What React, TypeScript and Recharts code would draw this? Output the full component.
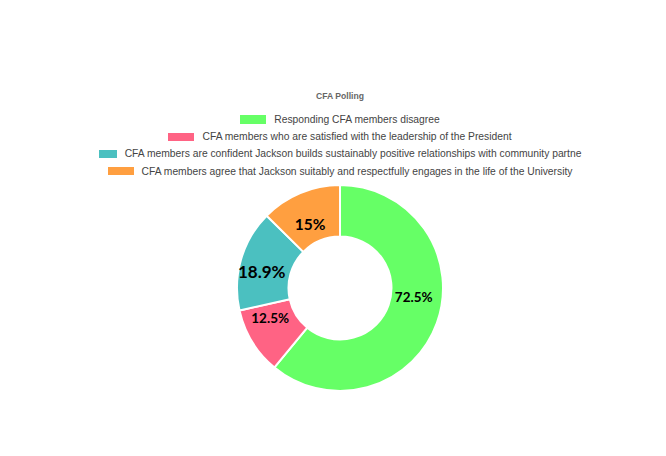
import { Cell, Pie, PieChart } from "recharts";

const categories = [
  "Responding CFA members disagree",
  "CFA members who are satisfied with the leadership of the President",
  "CFA members are confident Jackson builds sustainably positive relationships with community partne",
  "CFA members agree that Jackson suitably and respectfully engages in the life of the University",
];
const values = [72.5, 12.5, 18.9, 15];
const labels = ["72.5%", "12.5%", "18.9%", "15%"];

const colors = ["#66ff66", "#ff6384", "#4bc0c0", "#ff9f40"];
const labelSizes = [13.5, 13.5, 17, 15.5];
// small nudges so the labels sit where the original plugin put them
const labelNudge = [
  [1, -17],
  [-4, -10],
  [-4, 5],
  [0, 7],
];
const boxWidths = [26, 26, 18, 26];

const data = categories.map((name, i) => ({ name, value: values[i], label: labels[i] }));

const RADIAN = Math.PI / 180;

function renderLabel(props: any) {
  const { cx, cy, midAngle, innerRadius, outerRadius, index } = props;
  const r = (innerRadius + outerRadius) / 2;
  const x = cx + r * Math.cos(-midAngle * RADIAN) + labelNudge[index][0];
  const y = cy + r * Math.sin(-midAngle * RADIAN) + labelNudge[index][1];
  return (
    <text
      x={x}
      y={y}
      textAnchor="middle"
      dominantBaseline="central"
      fill="#000"
      fontFamily="Lato, 'Noto Sans', sans-serif"
      fontWeight={700}
      fontSize={labelSizes[index]}
    >
      {labels[index]}
    </text>
  );
}

function LegendBlock() {
  return (
    <div
      style={{
        position: "absolute",
        top: 80,
        left: 0,
        width: 664,
        fontFamily: "'Liberation Sans', Arial, sans-serif",
        textAlign: "center",
      }}
    >
      <div style={{ fontSize: 8.6, fontWeight: 700, color: "#666", height: 16, lineHeight: "16px" }}>
        CFA Polling
      </div>
      <div style={{ height: 7 }} />
      {categories.map((c, i) => (
        <div
          key={c}
          style={{
            height: 17.2,
            fontSize: 10.3,
            color: "#444",
            whiteSpace: "nowrap",
            display: "flex",
            justifyContent: "center",
            alignItems: "center",
          }}
        >
          <span
            style={{
              display: "inline-block",
              width: boxWidths[i],
              height: 8.5,
              background: colors[i],
              marginRight: 8,
            }}
          />
          <span>{c}</span>
        </div>
      ))}
    </div>
  );
}

export default function App() {
  return (
    <div style={{ position: "relative", width: 664, height: 440 }}>
      <PieChart width={664} height={440} margin={{ top: 0, right: 0, bottom: 0, left: 0 }}>
        <Pie
          data={data}
          dataKey="value"
          nameKey="name"
          cx={332}
          cy={280}
          innerRadius={51.5}
          outerRadius={103}
          startAngle={90}
          endAngle={-270}
          stroke="#fff"
          strokeWidth={2}
          label={renderLabel}
          labelLine={false}
          isAnimationActive={false}
        >
          {data.map((d, i) => (
            <Cell key={d.name} fill={colors[i]} />
          ))}
        </Pie>
      </PieChart>
      <LegendBlock />
    </div>
  );
}
